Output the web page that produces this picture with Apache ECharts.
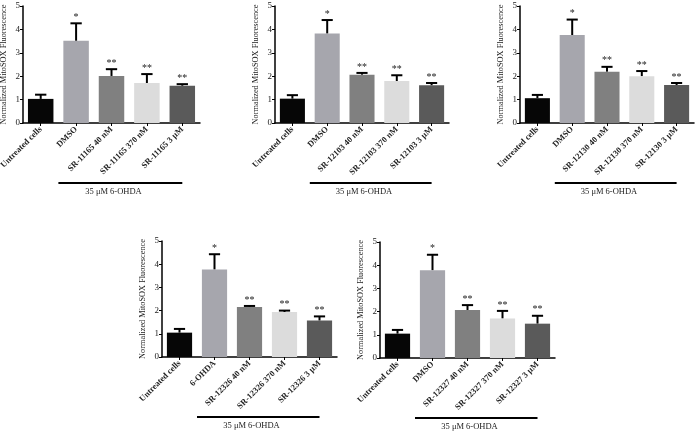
<!DOCTYPE html>
<html>
<head>
<meta charset="utf-8">
<script src="https://cdn.jsdelivr.net/npm/echarts@6/dist/echarts.min.js"></script>
<style>
html,body{margin:0;padding:0;background:#fff;}
#c{width:698px;height:435px;}
</style>
</head>
<body>
<div id="c"></div>
<script>
// ---- data ----
const yTickMin = 0, yTickMax = 5, yTickStep = 1;
const yAxisTitle = 'Normalized MitoSOX Fluorescence';
const treatmentLabel = '35 μM 6-OHDA';

const cats1 = ['Untreated cells', 'DMSO', 'SR-11165 40 nM', 'SR-11165 370 nM', 'SR-11165 3 μM'];
const vals1 = [1.03, 3.51, 2.01, 1.71, 1.59];
const errs1 = [0.18, 0.75, 0.29, 0.38, 0.07];

const cats2 = ['Untreated cells', 'DMSO', 'SR-12103 40 nM', 'SR-12103 370 nM', 'SR-12103 3 μM'];
const vals2 = [1.04, 3.82, 2.06, 1.79, 1.61];
const errs2 = [0.15, 0.58, 0.08, 0.25, 0.10];

const cats3 = ['Untreated cells', 'DMSO', 'SR-12130 40 nM', 'SR-12130 370 nM', 'SR-12130 3 μM'];
const vals3 = [1.06, 3.76, 2.19, 2.00, 1.62];
const errs3 = [0.14, 0.66, 0.21, 0.22, 0.09];

const cats4 = ['Untreated cells', '6-OHDA', 'SR-12326 40 nM', 'SR-12326 370 nM', 'SR-12326 3 μM'];
const vals4 = [1.05, 3.77, 2.16, 1.94, 1.57];
const errs4 = [0.16, 0.66, 0.04, 0.06, 0.18];

const cats5 = ['Untreated cells', 'DMSO', 'SR-12327 40 nM', 'SR-12327 370 nM', 'SR-12327 3 μM'];
const vals5 = [1.05, 3.78, 2.07, 1.70, 1.48];
const errs5 = [0.16, 0.67, 0.21, 0.33, 0.34];

const stars = ['', '*', '**', '**', '**'];

// ---- styles / layout ----
const barColors = ['#060606', '#a6a6ad', '#808080', '#dcdcdc', '#5a5a5a'];
const FONT = 'Liberation Serif';
const TXT = '#222';

const panels = [
  {cats: cats1, vals: vals1, errs: errs1, grid: {left: 23, top: 6, width: 177, height: 117}},
  {cats: cats2, vals: vals2, errs: errs2, grid: {left: 275, top: 6, width: 174, height: 117}},
  {cats: cats3, vals: vals3, errs: errs3, grid: {left: 520, top: 6, width: 174, height: 117}},
  {cats: cats4, vals: vals4, errs: errs4, grid: {left: 162, top: 241, width: 175, height: 116}},
  {cats: cats5, vals: vals5, errs: errs5, grid: {left: 380, top: 242, width: 175, height: 116}}
];

const grids = [], xAxes = [], yAxes = [], series = [];

panels.forEach((p, i) => {
  grids.push(Object.assign({containLabel: false, outerBoundsMode: 'none'}, p.grid));
  xAxes.push({
    type: 'category', gridIndex: i, data: p.cats,
    axisLine: {show: true, lineStyle: {color: '#000', width: 1.5}},
    axisTick: {show: true, alignWithLabel: true, length: 3, lineStyle: {color: '#000', width: 1}},
    axisLabel: {rotate: 45, interval: 0, margin: 5, fontFamily: FONT, fontSize: 8.5, color: TXT, fontWeight: 'bold'}
  });
  yAxes.push({
    type: 'value', gridIndex: i, min: yTickMin, max: yTickMax, interval: yTickStep,
    name: yAxisTitle, nameLocation: 'middle', nameGap: 15, nameRotate: 90,
    nameTextStyle: {fontFamily: FONT, fontSize: 8.3, color: TXT},
    axisLine: {show: true, lineStyle: {color: '#000', width: 1.5}},
    axisTick: {show: true, length: 3, lineStyle: {color: '#000', width: 1}},
    axisLabel: {margin: 3, fontFamily: FONT, fontSize: 9, color: TXT},
    splitLine: {show: false}
  });
  series.push({
    type: 'bar', xAxisIndex: i, yAxisIndex: i, barWidth: '72%',
    data: p.vals.map((v, k) => ({value: v, itemStyle: {color: barColors[k]}})),
    silent: true
  });
  series.push({
    type: 'custom', xAxisIndex: i, yAxisIndex: i, clip: false, silent: true,
    data: p.vals.map((v, k) => [k, v, p.errs[k]]),
    renderItem: function (params, api) {
      const k = api.value(0), v = api.value(1), e = api.value(2);
      const base = api.coord([k, v]);
      const top = api.coord([k, v + e]);
      const band = api.size([1, 0])[0];
      const cw = band * 0.16;
      const children = [
        {type: 'line', shape: {x1: base[0], y1: base[1], x2: top[0], y2: top[1]}, style: {stroke: '#000', lineWidth: 2}},
        {type: 'line', shape: {x1: top[0] - cw, y1: top[1], x2: top[0] + cw, y2: top[1]}, style: {stroke: '#000', lineWidth: 2}}
      ];
      const s = stars[k];
      if (s) {
        children.push({type: 'text', style: {text: s, x: top[0], y: top[1] - 1, align: 'center', verticalAlign: 'bottom', fontFamily: FONT, fontSize: 10, fill: TXT}});
      }
      return {type: 'group', children: children};
    }
  });
  series.push({
    type: 'custom', xAxisIndex: i, yAxisIndex: i, clip: false, silent: true,
    data: [[1, 0]],
    renderItem: function (params, api) {
      const a = api.coord([1, 0]);
      const b = api.coord([4, 0]);
      const c = api.coord([2, 0]);
      const band = api.size([1, 0])[0];
      return {type: 'group', children: [
        {type: 'line', shape: {x1: a[0] - band / 2, y1: a[1] + 60, x2: b[0], y2: a[1] + 60}, style: {stroke: '#000', lineWidth: 2}},
        {type: 'text', style: {text: treatmentLabel, x: c[0] + 2, y: a[1] + 69, align: 'center', verticalAlign: 'middle', fontFamily: FONT, fontSize: 8.5, fill: TXT}}
      ]};
    }
  });
});

const chart = echarts.init(document.getElementById('c'), null, {renderer: 'canvas'});
chart.setOption({
  animation: false,
  backgroundColor: '#fff',
  grid: grids, xAxis: xAxes, yAxis: yAxes, series: series
});
</script>
</body>
</html>
